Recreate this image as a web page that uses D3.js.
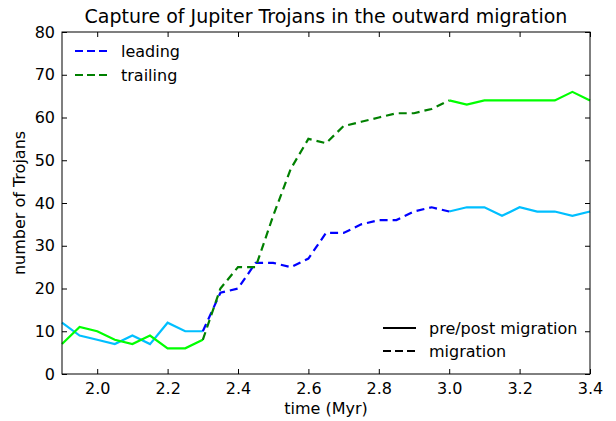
<!DOCTYPE html>
<html><head><meta charset="utf-8">
<script src="https://cdn.jsdelivr.net/npm/d3@7/dist/d3.min.js"></script>
<style>body{margin:0;background:#fff;} text{font-family:"DejaVu Sans",sans-serif;}</style>
</head><body><svg id="c" width="616" height="421"></svg>
<script>
const preTime = [1.9,1.95,2.0,2.05,2.1,2.15,2.2,2.25,2.3];
const preLeading = [12,9,8,7,9,7,12,10,10];
const preTrailing = [7,11,10,8,7,9,6,6,8];
const migTime = [2.3,2.35,2.4,2.45,2.5,2.55,2.6,2.65,2.7,2.75,2.8,2.85,2.9,2.95,3.0];
const migLeading = [10,19,20,26,26,25,27,33,33,35,36,36,38,39,38];
const migTrailing = [8,20,25,25,37,48,55,54,58,59,60,61,61,62,64];
const postTime = [3.0,3.05,3.1,3.15,3.2,3.25,3.3,3.35,3.4];
const postLeading = [38,39,39,37,39,38,38,37,38];
const postTrailing = [64,63,64,64,64,64,64,66,64];
const xTicks = [2.0,2.2,2.4,2.6,2.8,3.0,3.2,3.4];
const yTicks = [0,10,20,30,40,50,60,70,80];

const svg = d3.select("#c");
const L=62,R=590,T=32,B=374;
const x = d3.scaleLinear().domain([1.9,3.4]).range([L,R]);
const y = d3.scaleLinear().domain([0,80]).range([B,T]);
const line = d3.line().x(d=>x(d[0])).y(d=>y(d[1]));
const zip=(a,b)=>a.map((v,i)=>[v,b[i]]);

const g = svg.append("g");
function draw(t,v,color,dash){
  g.append("path").datum(zip(t,v)).attr("d",line).attr("fill","none")
   .attr("stroke",color).attr("stroke-width",2.2).attr("stroke-dasharray",dash||null);
}
draw(preTime,preLeading,"#00bfff");
draw(preTime,preTrailing,"#00ff00");
draw(postTime,postLeading,"#00bfff");
draw(postTime,postTrailing,"#00ff00");
draw(migTime,migLeading,"#0000ff","8,5");
draw(migTime,migTrailing,"#008000","8,5");

// axes (ticks inward)
const tk=5, fs=16;
svg.append("g").attr("transform",`translate(0,${B})`).call(d3.axisBottom(x).tickValues(xTicks).tickFormat(d3.format(".1f")).tickSizeInner(-tk).tickSizeOuter(0).tickPadding(9));
svg.append("g").attr("transform",`translate(0,${T})`).call(d3.axisTop(x).tickValues(xTicks).tickFormat("").tickSizeInner(-tk).tickSizeOuter(0));
svg.append("g").attr("transform",`translate(${L},0)`).call(d3.axisLeft(y).tickValues(yTicks).tickSizeInner(-tk).tickSizeOuter(0).tickPadding(7));
svg.append("g").attr("transform",`translate(${R},0)`).call(d3.axisRight(y).tickValues(yTicks).tickFormat("").tickSizeInner(-tk).tickSizeOuter(0));
svg.selectAll(".domain").remove();
svg.selectAll(".tick line").attr("stroke","#000").attr("stroke-width",1);
svg.selectAll(".tick text").attr("font-size",fs).attr("fill","#000").attr("font-family","DejaVu Sans");
svg.append("rect").attr("x",L).attr("y",T).attr("width",R-L).attr("height",B-T).attr("fill","none").attr("stroke","#000").attr("stroke-width",1);

svg.append("text").attr("x",(L+R)/2).attr("y",23).attr("text-anchor","middle").attr("font-size",19).text("Capture of Jupiter Trojans in the outward migration");
svg.append("text").attr("x",(L+R)/2).attr("y",414).attr("text-anchor","middle").attr("font-size",fs).text("time (Myr)");
svg.append("text").attr("transform",`translate(25,${(T+B)/2}) rotate(-90)`).attr("text-anchor","middle").attr("font-size",fs).text("number of Trojans");

// legends
const leg1=[["leading","#0000ff",51],["trailing","#008000",75]];
leg1.forEach(([t,c,yy])=>{
  svg.append("line").attr("x1",75).attr("x2",107).attr("y1",yy).attr("y2",yy).attr("stroke",c).attr("stroke-width",2.2).attr("stroke-dasharray","8,4");
  svg.append("text").attr("x",121).attr("y",yy+6).attr("font-size",fs).text(t);
});
const leg2=[["pre/post migration",null,328],["migration","8,4",351]];
leg2.forEach(([t,d,yy])=>{
  svg.append("line").attr("x1",383).attr("x2",416).attr("y1",yy).attr("y2",yy).attr("stroke","#000").attr("stroke-width",2.2).attr("stroke-dasharray",d);
  svg.append("text").attr("x",429).attr("y",yy+6).attr("font-size",fs).text(t);
});
</script></body></html>
